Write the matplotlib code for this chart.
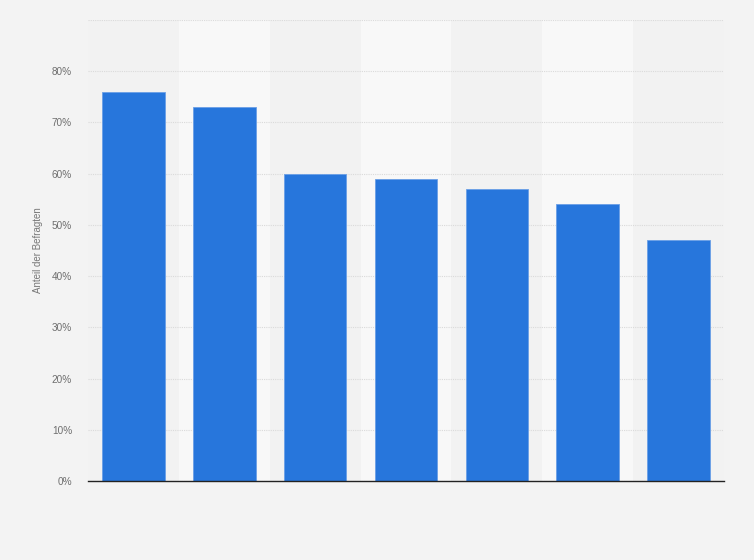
import numpy as np
import matplotlib.pyplot as plt
from matplotlib.ticker import FuncFormatter

plt.rcParams['font.family'] = ['Liberation Sans', 'DejaVu Sans']

# categories have no visible labels in the chart
categories = ["1", "2", "3", "4", "5", "6", "7"]
values = [76, 73, 60, 59, 57, 54, 47]
y_ticks = [0, 10, 20, 30, 40, 50, 60, 70, 80, 90]

fig = plt.figure(figsize=(7.54, 5.6), dpi=100)
fig.patch.set_facecolor("#f3f3f3")
ax = fig.add_axes([0.1167, 0.1411, 0.8435, 0.8232])
ax.set_facecolor("#f2f2f2")

x = np.arange(len(categories))

# lighter bands behind every second category
for i in x:
    if i % 2 == 1:
        ax.axvspan(i - 0.5, i + 0.5, color="#f8f8f8", zorder=0, lw=0)

ax.bar(x, values, width=0.69, color="#2776dc", edgecolor="#6a9fe6", linewidth=0.6, zorder=3)

ax.set_xlim(-0.5, len(categories) - 0.5)
ax.set_ylim(0, 90)
ax.set_yticks(y_ticks)
ax.yaxis.set_major_formatter(FuncFormatter(lambda v, p: "" if v == 90 else f"{int(v)}%"))
ax.set_xticks([])
ax.grid(axis="y", color="#dadada", linestyle=(0, (1, 1)), linewidth=0.8, zorder=1)
ax.tick_params(axis="y", length=0, pad=11.5, labelsize=7.2, labelcolor="#6e6e6e")

for s in ["top", "right", "left"]:
    ax.spines[s].set_visible(False)
ax.spines["bottom"].set_color("#222222")
ax.spines["bottom"].set_linewidth(1)
ax.spines["bottom"].set_zorder(4)

ax.set_ylabel("Anteil der Befragten", fontsize=7, color="#777777", labelpad=6)

fig.savefig("out.png", dpi=100, facecolor=fig.get_facecolor())
